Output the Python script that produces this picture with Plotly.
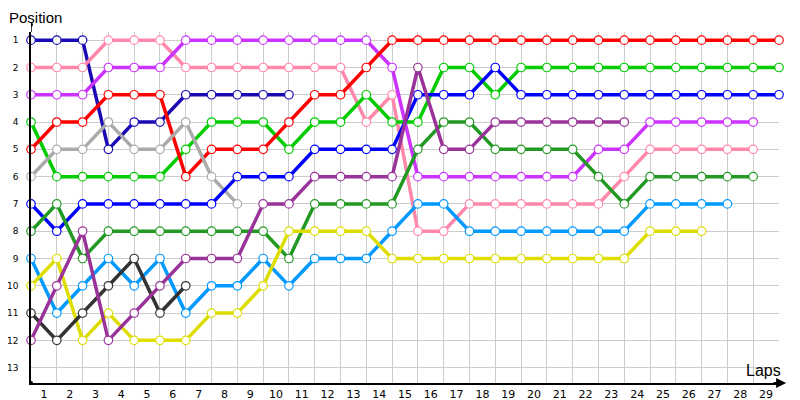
import plotly.graph_objects as go

laps = list(range(0, 30))
lap_labels = [str(i) for i in range(1, 30)]
positions = list(range(1, 14))

red = [5, 4, 4, 3, 3, 3, 6, 5, 5, 5, 4, 3, 3, 2, 1, 1, 1, 1, 1, 1, 1, 1, 1, 1, 1, 1, 1, 1, 1, 1]
green = [4, 6, 6, 6, 6, 6, 5, 4, 4, 4, 5, 4, 4, 3, 4, 4, 2, 2, 3, 2, 2, 2, 2, 2, 2, 2, 2, 2, 2, 2]
blue = [7, 8, 7, 7, 7, 7, 7, 7, 6, 6, 6, 5, 5, 5, 5, 3, 3, 3, 2, 3, 3, 3, 3, 3, 3, 3, 3, 3, 3, 3]
violet = [3, 3, 3, 2, 2, 2, 1, 1, 1, 1, 1, 1, 1, 1, 2, 6, 6, 6, 6, 6, 6, 6, 5, 5, 4, 4, 4, 4, 4]
pink = [2, 2, 2, 1, 1, 1, 2, 2, 2, 2, 2, 2, 2, 4, 3, 8, 8, 7, 7, 7, 7, 7, 7, 6, 5, 5, 5, 5, 5]
darkgreen = [8, 7, 9, 8, 8, 8, 8, 8, 8, 8, 9, 7, 7, 7, 7, 5, 4, 4, 5, 5, 5, 5, 6, 7, 6, 6, 6, 6, 6]
lightblue = [9, 11, 10, 9, 10, 9, 11, 10, 10, 9, 10, 9, 9, 9, 8, 7, 7, 8, 8, 8, 8, 8, 8, 8, 7, 7, 7, 7]
yellow = [10, 9, 12, 11, 12, 12, 12, 11, 11, 10, 8, 8, 8, 8, 9, 9, 9, 9, 9, 9, 9, 9, 9, 9, 8, 8, 8]
plum = [12, 10, 8, 12, 11, 10, 9, 9, 9, 7, 7, 6, 6, 6, 6, 2, 5, 5, 4, 4, 4, 4, 4, 4]
darkblue = [1, 1, 1, 5, 4, 4, 3, 3, 3, 3, 3]
gray = [6, 5, 5, 4, 5, 5, 4, 6, 7]
black = [11, 12, 11, 10, 9, 11, 10]

series = [
    ("darkblue", darkblue, "#1a0ab4"),
    ("pink", pink, "#ff88aa"),
    ("violet", violet, "#cc33ff"),
    ("green", green, "#00cc00"),
    ("red", red, "#ff0000"),
    ("gray", gray, "#aaaaaa"),
    ("blue", blue, "#0000ff"),
    ("darkgreen", darkgreen, "#229922"),
    ("lightblue", lightblue, "#0099ff"),
    ("yellow", yellow, "#dddd00"),
    ("black", black, "#333333"),
    ("plum", plum, "#993399"),
]

fig = go.Figure()
for name, vals, col in series:
    fig.add_trace(go.Scatter(
        x=laps[:len(vals)], y=vals, name=name, mode="lines+markers",
        line=dict(color=col, width=3.5),
        marker=dict(symbol="circle", size=8.5, color="white", line=dict(color=col, width=1.2)),
        cliponaxis=False, showlegend=False, hoverinfo="skip",
    ))

yr = [13.5625, 0.7]
fig.update_layout(
    template="none",
    width=792, height=392,
    margin=dict(l=23, r=21, t=24, b=17, pad=0),
    paper_bgcolor="white", plot_bgcolor="white",
    showlegend=False,
    xaxis=dict(
        range=[0, 29], tickmode="array", tickvals=[i + 0.5 for i in range(29)], ticktext=lap_labels,
        showgrid=False, zeroline=False, showline=True, linecolor="black", linewidth=2,
        ticks="", automargin=False, tickfont=dict(family="DejaVu Sans", size=11, color="black"),
        minor=dict(tickvals=laps, showgrid=True, gridcolor="#cccccc", gridwidth=1, ticks=""),
    ),
    yaxis=dict(
        range=yr, tickmode="array", tickvals=positions, ticktext=[str(p) for p in positions],
        showgrid=True, gridcolor="#cccccc", gridwidth=1, zeroline=False,
        showline=True, linecolor="black", linewidth=1.5, automargin=False,
        ticks="outside", ticklen=9, tickcolor="rgba(0,0,0,0)",
        tickfont=dict(family="DejaVu Sans", size=9, color="black"),
    ),
    yaxis2=dict(
        range=yr, overlaying="y", side="right", tickmode="array", tickvals=positions,
        ticktext=[str(p) for p in positions], showgrid=False, zeroline=False, showline=False,
        ticks="outside", ticklen=3, tickcolor="rgba(0,0,0,0)", automargin=False,
        tickfont=dict(family="DejaVu Sans", size=9, color="black"),
    ),
    annotations=[
        dict(text="Position", xref="paper", yref="paper", x=-0.0305, y=1.0695,
             xanchor="left", yanchor="top", showarrow=False, borderpad=0,
             font=dict(family="Liberation Sans", size=15, color="black")),
        dict(text="Laps", xref="paper", yref="paper", x=1.0054, y=0.035,
             xanchor="right", yanchor="middle", showarrow=False,
             font=dict(family="Liberation Sans", size=16, color="black")),
        dict(text="", xref="paper", yref="paper", x=1.0095, y=0, ax=-14, ay=0,
             showarrow=True, arrowhead=2, arrowsize=1, arrowwidth=2, arrowcolor="black"),
    ],
    shapes=[
        dict(type="line", xref="x", yref="paper", x0=0, x1=0, y0=1, y1=1.0204,
             line=dict(color="black", width=1.5)),
        dict(type="circle", xref="x", yref="paper", xsizemode="pixel", ysizemode="pixel",
             xanchor=0, yanchor=1.0204, x0=-2, x1=2, y0=-2, y1=2,
             fillcolor="black", line=dict(color="black", width=0)),
        dict(type="circle", xref="x", yref="paper", xsizemode="pixel", ysizemode="pixel",
             xanchor=0, yanchor=0, x0=-2, x1=2, y0=-2, y1=2,
             fillcolor="black", line=dict(color="black", width=0)),
    ],
)

fig.write_html("out.html")
